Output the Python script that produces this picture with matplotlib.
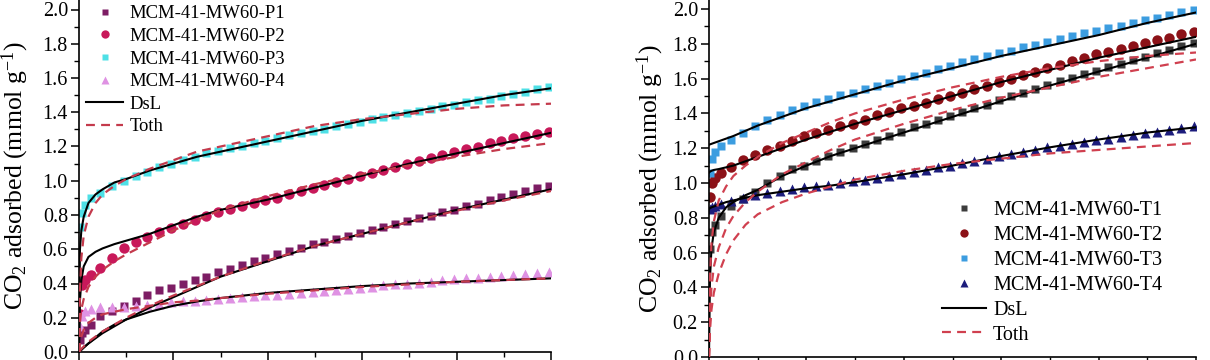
import matplotlib
matplotlib.use("Agg")
import matplotlib.pyplot as plt
from matplotlib.ticker import MultipleLocator

plt.rcParams['font.family'] = ['Liberation Serif', 'DejaVu Serif']
plt.rcParams['mathtext.fontset'] = 'custom'
plt.rcParams['mathtext.rm'] = 'Liberation Serif'
plt.rcParams['mathtext.it'] = 'Liberation Serif:italic'

# pressure of the measured points (relative units, 0-1)
p_pts = [0.002, 0.006, 0.012, 0.025, 0.045, 0.07, 0.095, 0.12, 0.145, 0.17,
         0.195, 0.22, 0.245, 0.27, 0.295, 0.32, 0.345, 0.37, 0.395, 0.42,
         0.445, 0.47, 0.495, 0.52, 0.545, 0.57, 0.595, 0.62, 0.645, 0.67,
         0.695, 0.72, 0.745, 0.77, 0.795, 0.82, 0.845, 0.87, 0.895, 0.92,
         0.945, 0.97, 0.995]

# pressure where the fitted curves were read
p_fit = [0, 0.002, 0.005, 0.01, 0.02, 0.035, 0.05, 0.075, 0.1, 0.15, 0.2,
         0.25, 0.3, 0.4, 0.5, 0.6, 0.7, 0.8, 0.9, 1.0]

# ---- left panel: P series ----
p1 = [0.07, 0.11, 0.13, 0.16, 0.21, 0.24, 0.27, 0.30, 0.33, 0.36, 0.375, 0.395,
      0.42, 0.44, 0.465, 0.485, 0.51, 0.53, 0.55, 0.57, 0.59, 0.61, 0.63, 0.645,
      0.66, 0.68, 0.695, 0.71, 0.73, 0.745, 0.765, 0.78, 0.795, 0.815, 0.83,
      0.85, 0.865, 0.885, 0.905, 0.92, 0.94, 0.955, 0.97]
p2 = [0.22, 0.39, 0.42, 0.45, 0.49, 0.55, 0.61, 0.64, 0.67, 0.70, 0.725, 0.745,
      0.77, 0.795, 0.815, 0.835, 0.85, 0.87, 0.885, 0.90, 0.92, 0.94, 0.955,
      0.975, 0.99, 1.01, 1.025, 1.045, 1.06, 1.08, 1.10, 1.115, 1.13, 1.15,
      1.17, 1.185, 1.20, 1.22, 1.235, 1.25, 1.26, 1.275, 1.285]
p3 = [0.73, 0.81, 0.86, 0.90, 0.93, 0.97, 1.00, 1.03, 1.05, 1.08, 1.10, 1.12,
      1.14, 1.16, 1.175, 1.19, 1.205, 1.22, 1.235, 1.25, 1.265, 1.28, 1.29,
      1.305, 1.32, 1.33, 1.345, 1.36, 1.37, 1.385, 1.395, 1.41, 1.42, 1.435,
      1.445, 1.46, 1.47, 1.48, 1.495, 1.505, 1.52, 1.535, 1.55]
p4 = [0.15, 0.21, 0.24, 0.25, 0.26, 0.26, 0.265, 0.27, 0.275, 0.28, 0.29, 0.295,
      0.30, 0.305, 0.31, 0.315, 0.32, 0.325, 0.33, 0.335, 0.34, 0.345, 0.35,
      0.355, 0.36, 0.37, 0.375, 0.38, 0.39, 0.395, 0.40, 0.405, 0.41, 0.42,
      0.425, 0.43, 0.435, 0.44, 0.445, 0.45, 0.455, 0.46, 0.465]

p1_dsl = [0, 0.005, 0.013, 0.026, 0.05, 0.08, 0.11, 0.15, 0.19, 0.26, 0.32,
          0.38, 0.44, 0.53, 0.62, 0.69, 0.76, 0.83, 0.89, 0.95]
p2_dsl = [0, 0.30, 0.42, 0.50, 0.555, 0.585, 0.605, 0.63, 0.65, 0.69, 0.74,
          0.79, 0.83, 0.89, 0.96, 1.03, 1.10, 1.16, 1.22, 1.28]
p3_dsl = [0, 0.60, 0.71, 0.79, 0.87, 0.92, 0.95, 0.99, 1.01, 1.06, 1.10,
          1.14, 1.17, 1.23, 1.29, 1.35, 1.40, 1.45, 1.50, 1.54]
p4_dsl = [0, 0.005, 0.013, 0.026, 0.05, 0.085, 0.12, 0.16, 0.19, 0.235, 0.27,
          0.295, 0.315, 0.345, 0.365, 0.385, 0.40, 0.41, 0.42, 0.43]

p1_toth = [0, 0.008, 0.018, 0.032, 0.06, 0.09, 0.12, 0.16, 0.20, 0.27, 0.33,
           0.385, 0.44, 0.535, 0.62, 0.69, 0.76, 0.825, 0.885, 0.94]
p2_toth = [0, 0.17, 0.25, 0.31, 0.38, 0.44, 0.48, 0.53, 0.57, 0.64, 0.71,
           0.77, 0.83, 0.91, 0.98, 1.04, 1.09, 1.14, 1.185, 1.22]
p3_toth = [0, 0.35, 0.55, 0.68, 0.79, 0.87, 0.92, 0.97, 1.01, 1.07, 1.12,
           1.17, 1.20, 1.26, 1.32, 1.36, 1.39, 1.42, 1.44, 1.45]
p4_toth = [0, 0.05, 0.09, 0.13, 0.17, 0.20, 0.22, 0.235, 0.25, 0.27, 0.29,
           0.30, 0.315, 0.34, 0.36, 0.38, 0.395, 0.41, 0.42, 0.43]

# ---- right panel: T series ----
t1 = [0.62, 0.72, 0.76, 0.81, 0.87, 0.91, 0.95, 1.00, 1.04, 1.08, 1.10, 1.125,
      1.155, 1.18, 1.20, 1.225, 1.25, 1.27, 1.295, 1.32, 1.34, 1.36, 1.385,
      1.41, 1.43, 1.45, 1.475, 1.50, 1.52, 1.54, 1.565, 1.585, 1.605, 1.625,
      1.645, 1.665, 1.685, 1.705, 1.725, 1.745, 1.765, 1.785, 1.805]
t2 = [0.92, 1.00, 1.03, 1.06, 1.09, 1.13, 1.16, 1.19, 1.21, 1.24, 1.27, 1.285,
      1.305, 1.325, 1.34, 1.36, 1.39, 1.41, 1.43, 1.445, 1.46, 1.48, 1.50,
      1.52, 1.54, 1.56, 1.58, 1.60, 1.62, 1.64, 1.66, 1.68, 1.70, 1.72, 1.74,
      1.755, 1.77, 1.79, 1.805, 1.82, 1.835, 1.855, 1.87]
t3 = [1.06, 1.14, 1.18, 1.21, 1.25, 1.29, 1.33, 1.36, 1.39, 1.42, 1.44, 1.465,
      1.485, 1.505, 1.52, 1.54, 1.555, 1.575, 1.595, 1.615, 1.635, 1.655,
      1.675, 1.695, 1.71, 1.73, 1.745, 1.76, 1.78, 1.795, 1.81, 1.83, 1.845,
      1.86, 1.875, 1.89, 1.905, 1.92, 1.935, 1.95, 1.965, 1.98, 1.995]
t4 = [0.85, 0.86, 0.87, 0.88, 0.895, 0.915, 0.93, 0.945, 0.955, 0.965, 0.975,
      0.98, 0.99, 1.00, 1.01, 1.02, 1.03, 1.04, 1.05, 1.065, 1.075, 1.09, 1.10,
      1.115, 1.125, 1.14, 1.155, 1.165, 1.18, 1.19, 1.205, 1.215, 1.225,
      1.235, 1.245, 1.255, 1.265, 1.275, 1.285, 1.295, 1.305, 1.315, 1.325]

t1_dsl = [0, 0.45, 0.62, 0.72, 0.80, 0.86, 0.89, 0.93, 0.96, 1.04, 1.10,
          1.155, 1.20, 1.29, 1.38, 1.47, 1.56, 1.64, 1.72, 1.80]
t2_dsl = [1.06, 1.065, 1.07, 1.075, 1.08, 1.09, 1.10, 1.125, 1.15, 1.20, 1.25,
          1.295, 1.34, 1.42, 1.50, 1.58, 1.65, 1.72, 1.78, 1.84]
t3_dsl = [1.22, 1.222, 1.225, 1.23, 1.24, 1.255, 1.27, 1.30, 1.33, 1.38, 1.43,
          1.47, 1.51, 1.59, 1.66, 1.73, 1.79, 1.85, 1.92, 1.98]
t4_dsl = [0.85, 0.855, 0.86, 0.865, 0.875, 0.89, 0.90, 0.915, 0.93, 0.95, 0.97,
          0.985, 1.005, 1.05, 1.10, 1.155, 1.205, 1.25, 1.29, 1.32]

t1_toth = [0, 0.25, 0.40, 0.52, 0.63, 0.74, 0.81, 0.89, 0.95, 1.05, 1.12,
           1.19, 1.25, 1.34, 1.42, 1.49, 1.55, 1.61, 1.66, 1.71]
t2_toth = [0, 0.45, 0.65, 0.78, 0.90, 0.98, 1.04, 1.10, 1.15, 1.23, 1.29,
           1.35, 1.40, 1.48, 1.55, 1.61, 1.66, 1.70, 1.73, 1.75]
t4_toth = [0, 0.15, 0.27, 0.37, 0.48, 0.59, 0.67, 0.76, 0.82, 0.89, 0.94,
           0.98, 1.02, 1.07, 1.11, 1.14, 1.17, 1.19, 1.21, 1.23]

ylab = 'CO$_2$ adsorbed (mmol g$^{-1}$)'
toth_ls = (0, (4, 2.8))

fig = plt.figure(figsize=(12.1, 3.6), dpi=100)
ax1 = fig.add_axes([79 / 1210, 8 / 360, 472 / 1210, 352 / 360])
ax2 = fig.add_axes([709 / 1210, 3 / 360, 487 / 1210, 357 / 360])


def style(ax, ymax):
    ax.set_xlim(0, 1.0)
    ax.set_ylim(0, ymax)
    for s in ['top', 'right']:
        ax.spines[s].set_visible(False)
    for s in ['left', 'bottom']:
        ax.spines[s].set_linewidth(1.2)
    ax.xaxis.set_major_locator(MultipleLocator(0.2))
    ax.xaxis.set_minor_locator(MultipleLocator(0.1))
    ax.yaxis.set_major_locator(MultipleLocator(0.2))
    ax.yaxis.set_minor_locator(MultipleLocator(0.1))
    ax.yaxis.set_major_formatter(matplotlib.ticker.FormatStrFormatter('%.1f'))
    ax.tick_params(which='major', direction='out', length=6, width=1.1,
                   labelsize=14.5, pad=2, labelbottom=False)
    ax.tick_params(which='minor', direction='out', length=3.5, width=1.0)
    ax.set_ylabel(ylab, fontsize=18.5)


# left panel
style(ax1, 352 / 171.25)
ax1.plot(p_pts, p1, 's', color='#7d1d64', ms=6, mec='none', label='MCM-41-MW60-P1', zorder=2)
ax1.plot(p_pts, p2, 'o', color='#c8195a', ms=7.5, mec='none', label='MCM-41-MW60-P2', zorder=2)
ax1.plot(p_pts, p3, 's', color='#4ee0e6', ms=6, mec='none', label='MCM-41-MW60-P3', zorder=2)
ax1.plot(p_pts, p4, '^', color='#df92e3', ms=7, mec='none', label='MCM-41-MW60-P4', zorder=2)
for i, c in enumerate([p1_dsl, p2_dsl, p3_dsl, p4_dsl]):
    ax1.plot(p_fit, c, '-', color='black', lw=1.5, zorder=3,
             label='DsL' if i == 0 else None)
for i, c in enumerate([p1_toth, p2_toth, p3_toth, p4_toth]):
    ax1.plot(p_fit, c, color='#c43a4c', ls=toth_ls, lw=1.6, zorder=3,
             label='Toth' if i == 0 else None)
ax1.yaxis.set_label_coords(-0.102, 0.5)
ax1.legend(loc='upper left', bbox_to_anchor=(0.015, 0.985), frameon=False,
           fontsize=13.4, borderpad=0, borderaxespad=0, labelspacing=0.30,
           handlelength=2.0, handletextpad=0.35, numpoints=1, markerscale=0.8)

# right panel
style(ax2, 357 / 174)
ax2.plot(p_pts, t1, 's', color='#3c3c3c', ms=6, mec='none', label='MCM-41-MW60-T1', zorder=2)
ax2.plot(p_pts, t2, 'o', color='#8c1218', ms=7.5, mec='none', label='MCM-41-MW60-T2', zorder=2)
ax2.plot(p_pts, t3, 's', color='#3c9de0', ms=6, mec='none', label='MCM-41-MW60-T3', zorder=2)
ax2.plot(p_pts, t4, '^', color='#1c1c7c', ms=7, mec='none', label='MCM-41-MW60-T4', zorder=2)
for i, c in enumerate([t1_dsl, t2_dsl, t3_dsl, t4_dsl]):
    ax2.plot(p_fit, c, '-', color='black', lw=1.5, zorder=3,
             label='DsL' if i == 0 else None)
for i, c in enumerate([t1_toth, t2_toth, t4_toth]):
    ax2.plot(p_fit, c, color='#d0404f', ls=toth_ls, lw=1.6, zorder=3,
             label='Toth' if i == 0 else None)
ax2.yaxis.set_label_coords(-0.088, 0.5)
ax2.legend(loc='lower left', bbox_to_anchor=(0.478, 0.035), frameon=False,
           fontsize=14.5, borderpad=0, borderaxespad=0, labelspacing=0.29,
           handlelength=2.2, handletextpad=0.35, numpoints=1, markerscale=0.8)

fig.savefig('out.png', dpi=100)
